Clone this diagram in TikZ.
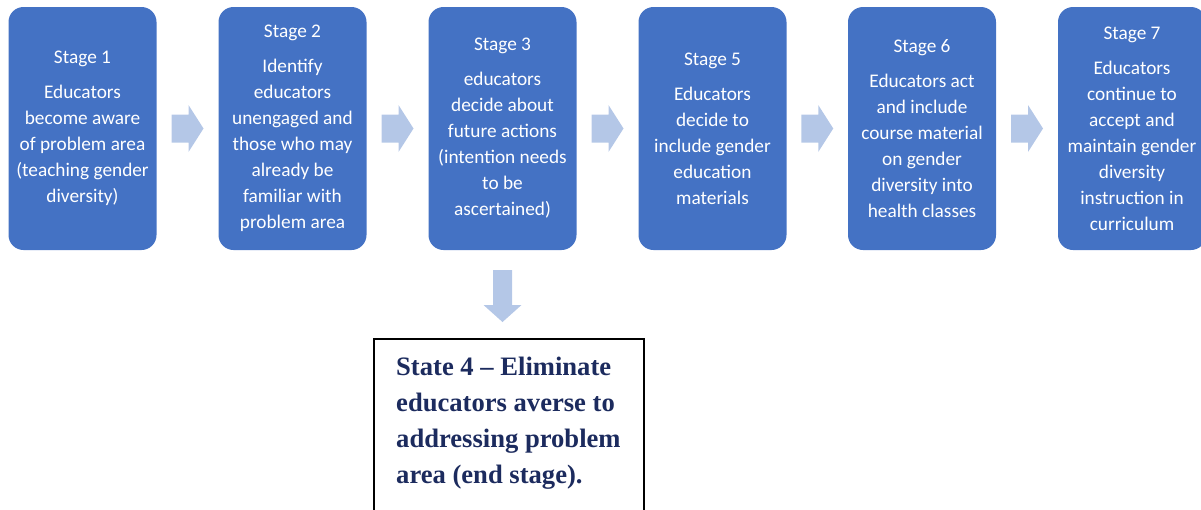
\documentclass[tikz,border=0pt]{standalone}
\usepackage{fontspec}
\usetikzlibrary{calc}
\setmainfont{Carlito}
\newfontfamily\tnr{Liberation Serif}
\definecolor{boxblue}{HTML}{4472C4}
\definecolor{arrowblue}{HTML}{B4C7E7}
\definecolor{navy}{HTML}{1C2B5E}
\tikzset{
  stagebox/.style={fill=boxblue, draw=none, rounded corners=15pt, minimum width=148pt, minimum height=243pt,
    text=white, align=center, font=\fontsize{19.3}{26}\selectfont, inner sep=0pt},
  arrowfill/.style={fill=arrowblue, draw=none},
  endbox/.style={draw=black, line width=2pt}
}
\newcommand{\rblock}[1]{\fill[arrowfill] ([shift={(-16,-14)}]#1) -- ++(17,0) -- ++(0,-9.5) -- ++(15,23.5) -- ++(-15,23.5) -- ++(0,-9.5) -- ++(-17,0) -- cycle;}
\begin{document}
\begin{tikzpicture}[x=1pt,y=-1pt]
\useasboundingbox (0,0) rectangle (1201,509);
\clip (0,0) rectangle (1201,509);
\node[stagebox] (s1) at (82.5,128.5) {Stage 1\\[9pt]Educators\\become aware\\of problem area\\(teaching gender\\diversity)};
\node[stagebox] (s2) at (292.5,128.5) {Stage 2\\[9pt]Identify\\educators\\unengaged and\\those who may\\already be\\familiar with\\problem area};
\node[stagebox] (s3) at (502.5,128.5) {Stage 3\\[9pt]educators\\decide about\\future actions\\(intention needs\\to be\\ascertained)};
\node[stagebox] (s5) at (712.5,128.5) {Stage 5\\[9pt]Educators\\decide to\\include gender\\education\\materials};
\node[stagebox] (s6) at (922,128.5) {Stage 6\\[9pt]Educators act\\and include\\course material\\on gender\\diversity into\\health classes};
\node[stagebox] (s7) at (1132,128.5) {Stage 7\\[9pt]Educators\\continue to\\accept and\\maintain gender\\diversity\\instruction in\\curriculum};
\coordinate (a12) at ($(s1.east)!0.5!(s2.west)$);
\coordinate (a23) at ($(s2.east)!0.5!(s3.west)$);
\coordinate (a35) at ($(s3.east)!0.5!(s5.west)$);
\coordinate (a56) at ($(s5.east)!0.5!(s6.west)$);
\coordinate (a67) at ($(s6.east)!0.5!(s7.west)$);
\rblock{a12}
\rblock{a23}
\rblock{a35}
\rblock{a56}
\rblock{a67}
\coordinate (s4) at (374,339);
\draw[endbox] (374,520) -- (s4) -- (644,339) -- (644,520);
\node[anchor=north west, align=left, inner sep=0pt, text=navy, font=\tnr\bfseries\fontsize{26.6}{36}\selectfont] (t4) at (396,357)
  {State 4 – Eliminate\\educators averse to\\addressing problem\\area (end stage).};
\coordinate (d) at (502.5,270);
\fill[arrowfill] ([shift={(-9.5,0)}]d) -- ++(19,0) -- ++(0,35) -- ++(9.5,0) -- ++(-19,17) -- ++(-19,-17) -- ++(9.5,0) -- cycle;
\end{tikzpicture}
\end{document}
